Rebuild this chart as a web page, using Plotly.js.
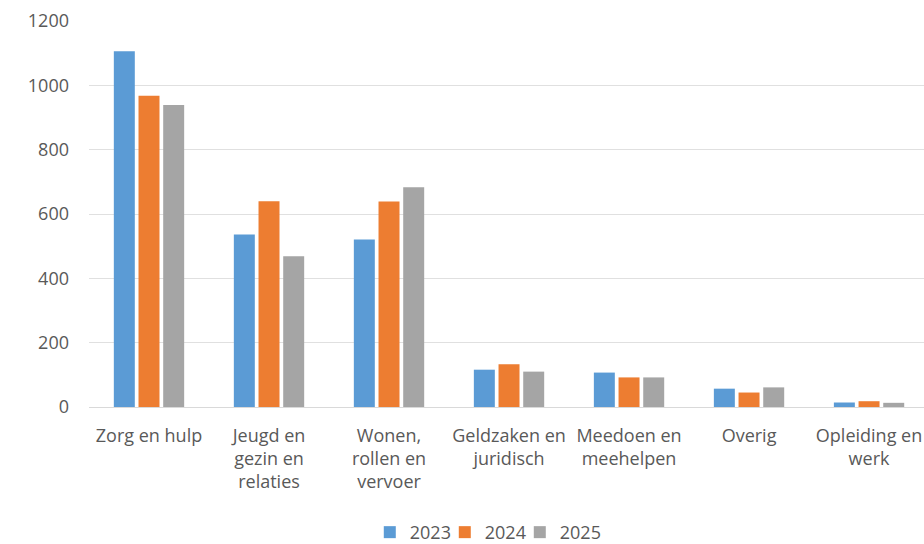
<!DOCTYPE html>
<html>
<head>
<meta charset="utf-8">
<script src="https://cdn.plot.ly/plotly-3.0.1.min.js"></script>
<style>html,body{margin:0;padding:0;background:#fff;}#chart{width:924px;height:544px;}</style>
</head>
<body>
<div id="chart"></div>
<script>
const categories = ["Zorg en hulp", "Jeugd en<br>gezin en<br>relaties", "Wonen,<br>rollen en<br>vervoer", "Geldzaken en<br>juridisch", "Meedoen en<br>meehelpen", "Overig", "Opleiding en<br>werk"];
const years = ["2023", "2024", "2025"];
const values2023 = [1106, 536, 521, 116, 107, 57, 14];
const values2024 = [968, 640, 639, 133, 92, 45, 18];
const values2025 = [939, 469, 683, 110, 92, 61, 13];
const colors = ["#5B9BD5", "#ED7D31", "#A5A5A5"];
const yTicks = [0, 200, 400, 600, 800, 1000, 1200];

const series = [values2023, values2024, values2025];
const data = series.map((vals, i) => ({
  type: "bar",
  name: years[i],
  x: categories,
  y: vals,
  marker: {color: colors[i]},
  hoverinfo: "none"
}));

const fam = "'Open Sans', 'DejaVu Sans', sans-serif";
const txt = "#595959";

const layout = {
  width: 924,
  height: 544,
  margin: {l: 89, r: 0, t: 21, b: 137, autoexpand: false},
  paper_bgcolor: "#ffffff",
  plot_bgcolor: "#ffffff",
  font: {family: fam, size: 17, color: txt},
  barmode: "group",
  bargap: 0.383,
  bargroupgap: 0.15,
  showlegend: true,
  legend: {
    orientation: "h",
    x: 0.471,
    xanchor: "center",
    y: -0.325,
    yanchor: "middle",
    font: {family: fam, size: 18, color: txt},
    itemwidth: 30,
    entrywidth: 30,
    entrywidthmode: "pixels",
    traceorder: "normal"
  },
  xaxis: {
    type: "category",
    range: [-0.5, 6.458],
    showgrid: false,
    showline: true,
    linecolor: "#D9D9D9",
    linewidth: 1,
    ticks: "",
    tickangle: 0,
    ticklabelstandoff: 12,
    tickfont: {family: fam, size: 18, color: txt},
    automargin: false
  },
  yaxis: {
    range: [0, 1200],
    tickvals: yTicks,
    ticktext: yTicks.map(String),
    showgrid: true,
    gridcolor: "#E0E0E0",
    gridwidth: 1,
    zeroline: false,
    showline: false,
    ticks: "",
    ticklabelstandoff: 19,
    tickfont: {family: fam, size: 18, color: txt},
    automargin: false
  }
};

Plotly.newPlot("chart", data, layout, {displayModeBar: false, staticPlot: true}).then(function (gd) {
  gd.querySelectorAll('.legend [clip-path]').forEach(function (el) { el.removeAttribute('clip-path'); });
});
</script>
</body>
</html>
